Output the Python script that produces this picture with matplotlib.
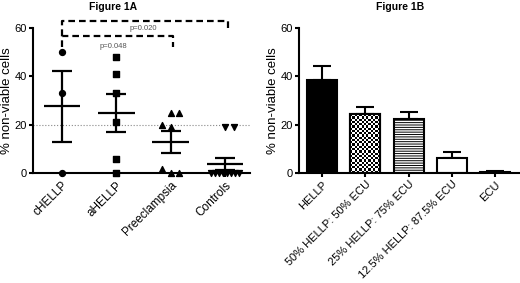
import numpy as np
import matplotlib
matplotlib.use("Agg")
import matplotlib.pyplot as plt

plt.rcParams['font.family'] = ['Liberation Sans', 'DejaVu Sans']
plt.rcParams['hatch.linewidth'] = 0.7

# Figure 1A: individual values per group
groups = ["cHELLP", "aHELLP", "Preeclampsia", "Controls"]
chellp = [50, 33, 0]
ahellp = [48, 41, 33, 21, 6, 0]
preeclampsia = [25, 25, 20, 19, 1.6, 0, 0]
controls = [19, 19, 0, 0, 0, 0, 0, 0, 0, 0]
group_values = [chellp, ahellp, preeclampsia, controls]

# Figure 1B: bar means and upper SEM
mix_labels = ["HELLP", "50% HELLP: 50% ECU", "25% HELLP: 75% ECU",
              "12.5% HELLP: 87.5% ECU", "ECU"]
mix_means = [38.5, 24.4, 22.4, 6.3, 0.6]
mix_sem = [5.7, 2.9, 2.7, 2.4, 0.4]

# layout / style (horizontal scatter offsets of the points)
offsets = [
    [0, 0, 0],
    [0, 0, 0, 0, 0, 0],
    [0, 0.15, -0.16, 0, -0.16, 0, 0.15],
    [0, 0.16, -0.25, -0.18, -0.11, -0.04, 0.04, 0.11, 0.18, 0.25],
]
markers = ['o', 's', '^', 'v']

fig = plt.figure(figsize=(5.2, 2.83), dpi=100)
ax1 = fig.add_axes([33 / 520, 110 / 283, 217 / 520, 145 / 283])
ax2 = fig.add_axes([299 / 520, 110 / 283, 220 / 520, 145 / 283])

for ax in (ax1, ax2):
    ax.spines['top'].set_visible(False)
    ax.spines['right'].set_visible(False)
    ax.spines['left'].set_linewidth(1.5)
    ax.spines['bottom'].set_linewidth(1.5)
    ax.set_ylim(0, 60)
    ax.set_yticks([0, 20, 40, 60])
    ax.tick_params(axis='both', width=1.5, length=3, labelsize=8, pad=1.5)
    ax.set_ylabel("% non-viable cells", fontsize=9.5, labelpad=1)

# ---- Figure 1A ----
ax1.axhline(20, color='#888888', linestyle=':', lw=0.8, zorder=1)
for i, vals in enumerate(group_values):
    vals = np.array(vals, dtype=float)
    xs = i + np.array(offsets[i])
    ax1.scatter(xs, vals, marker=markers[i], s=18, color='black',
                clip_on=False, zorder=3)
    m = vals.mean()
    sem = vals.std(ddof=1) / np.sqrt(len(vals))
    ax1.hlines(m, i - 0.34, i + 0.34, color='black', lw=1.6, zorder=4)
    ax1.errorbar(i, m, yerr=sem, fmt='none', ecolor='black', elinewidth=1.6,
                 capsize=7.2, capthick=1.6, zorder=4)

ax1.set_xlim(-0.534, 3.46)
ax1.set_xticks(range(len(groups)))
ax1.set_xticklabels(groups, rotation=45, ha='right', rotation_mode='anchor',
                    fontsize=8.5)

# significance brackets
dash = dict(color='black', lw=1.6, linestyle=(0, (3, 1.8)), clip_on=False)
ax1.plot([0, 0, 3.05, 3.05], [56.6, 63, 63, 58.3], **dash)
ax1.plot([0, 0, 2.04, 2.04], [52.3, 56.6, 56.6, 52], **dash)
ax1.text(1.49, 59.6, "p=0.020", fontsize=5.5, color='#555555',
         ha='center', va='center')
ax1.text(0.94, 52.3, "p=0.048", fontsize=5.5, color='#555555',
         ha='center', va='center')

# ---- Figure 1B ----
x = np.arange(len(mix_labels))
bars = ax2.bar(x, mix_means, width=0.69,
               color=['black', 'white', 'white', 'white', 'white'],
               edgecolor='black', linewidth=1.5, zorder=2)
bars[2].set_hatch('-------')
ax2.errorbar(x, mix_means, yerr=[np.zeros(len(x)), mix_sem], fmt='none',
             ecolor='black', elinewidth=1.5, capsize=6.5, capthick=1.5, zorder=1)

# checkerboard fill for the 50:50 bar
b = bars[1]
rows, cols = 26, 13
cb = np.indices((rows, cols)).sum(0) % 2
im = ax2.imshow(cb, cmap='gray', interpolation='nearest', aspect='auto',
                extent=[b.get_x(), b.get_x() + b.get_width(), 0, b.get_height()],
                zorder=2.5)
im.set_clip_path(b)
ax2.add_patch(plt.Rectangle((b.get_x(), 0), b.get_width(), b.get_height(),
                            fill=False, edgecolor='black', lw=1.5, zorder=3))

ax2.set_xlim(-0.53, 4.55)
ax2.set_ylim(0, 60)
ax2.set_xticks(x)
ax2.set_xticklabels(mix_labels, rotation=45, ha='right', rotation_mode='anchor',
                    fontsize=8)

fig.text(113 / 520, 1 - 7 / 283, "Figure 1A", fontsize=7.5, fontweight='bold',
         ha='center', va='center')
fig.text(400 / 520, 1 - 7 / 283, "Figure 1B", fontsize=7.5, fontweight='bold',
         ha='center', va='center')

fig.savefig("out.png", dpi=100)
